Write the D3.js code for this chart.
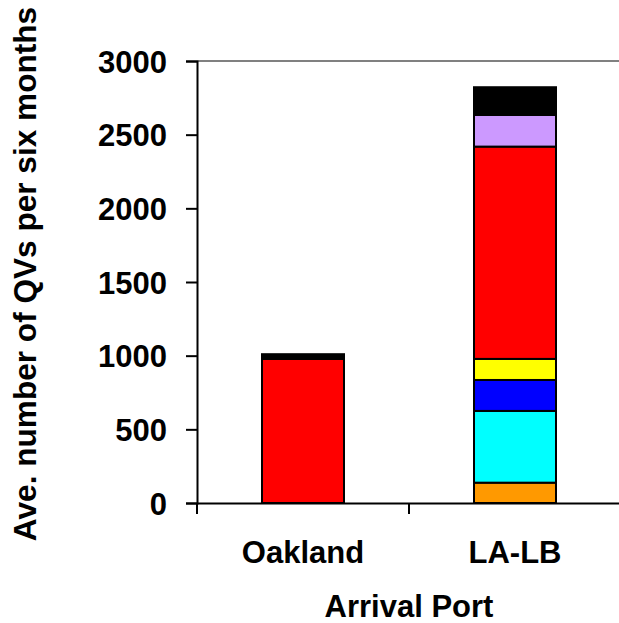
<!DOCTYPE html>
<html>
<head>
<script src="https://d3js.org/d3.v7.min.js"></script>
<style>
  body { margin: 0; background: #fff; }
  text { font-family: Arial, "Liberation Sans", sans-serif; font-weight: bold; }
</style>
</head>
<body>
<svg width="619" height="623"></svg>
<script>
// data, stacked bottom to top
var ports = ["Oakland", "LA-LB"];
var seriesKeys = ["s1", "s2", "s3", "s4", "s5", "s6", "s7"];
var seriesColors = ["#FF9900", "#00FFFF", "#0000FF", "#FFFF00", "#FF0000", "#CC99FF", "#000000"];
var oaklandValues = [0, 0, 0, 0, 978, 0, 32];
var lalbValues = [138, 487, 210, 143, 1441, 215, 188];
var yTicks = [0, 500, 1000, 1500, 2000, 2500, 3000];

var rows = [oaklandValues, lalbValues].map(function (vals, i) {
    var r = { port: ports[i] };
    seriesKeys.forEach(function (k, j) { r[k] = vals[j]; });
    return r;
});

var svg = d3.select("svg");
var plotLeft = 197, plotRight = 621, plotTop = 61, plotBottom = 503;
var fontSize = 31;

var x = d3.scaleBand().domain(ports).range([plotLeft, plotRight]).paddingInner(0).paddingOuter(0);
var y = d3.scaleLinear().domain([0, 3000]).range([plotBottom, plotTop]);
var barW = 82;

// top gridline
svg.append("line")
    .attr("x1", plotLeft).attr("x2", 619)
    .attr("y1", y(3000)).attr("y2", y(3000))
    .attr("stroke", "#808080").attr("stroke-width", 2);

var stack = d3.stack().keys(seriesKeys)(rows);

svg.append("g").selectAll("g")
    .data(stack)
    .enter().append("g")
    .attr("fill", function (d, i) { return seriesColors[i]; })
    .selectAll("rect")
    .data(function (d) { return d.filter(function (p) { return p[1] - p[0] > 0; }); })
    .enter().append("rect")
    .attr("x", function (d) { return x(d.data.port) + x.bandwidth() / 2 - barW / 2; })
    .attr("width", barW)
    .attr("y", function (d) { return y(d[1]); })
    .attr("height", function (d) { return y(d[0]) - y(d[1]); })
    .attr("stroke", "#000")
    .attr("stroke-width", 2);

// y axis
var yAxis = svg.append("g")
    .attr("transform", "translate(" + plotLeft + ",0)")
    .call(d3.axisLeft(y).tickValues(yTicks).tickFormat(d3.format("d")).tickSize(11).tickPadding(19));
yAxis.select(".domain").attr("stroke-width", 2);
yAxis.selectAll(".tick line").attr("stroke-width", 2);
yAxis.selectAll("text").attr("font-size", fontSize).attr("fill", "#000")
    .attr("font-family", "Arial, 'Liberation Sans', sans-serif").attr("dy", "0.36em");

// x axis
var xAxis = svg.append("g")
    .attr("transform", "translate(0," + plotBottom + ")")
    .call(d3.axisBottom(x).tickSize(0).tickPadding(38));
xAxis.select(".domain").attr("stroke-width", 2);
xAxis.selectAll("text").attr("font-size", fontSize).attr("fill", "#000")
    .attr("font-family", "Arial, 'Liberation Sans', sans-serif");

// category separators (ticks between bands)
svg.append("g").selectAll("line")
    .data([plotLeft, x("LA-LB"), plotRight])
    .enter().append("line")
    .attr("x1", function (d) { return d; }).attr("x2", function (d) { return d; })
    .attr("y1", plotBottom).attr("y2", plotBottom + 11)
    .attr("stroke", "#000").attr("stroke-width", 2);

svg.append("text")
    .attr("x", 409).attr("y", 617)
    .attr("text-anchor", "middle")
    .attr("font-size", fontSize)
    .text("Arrival Port");

svg.append("text")
    .attr("transform", "translate(36,274) rotate(-90)")
    .attr("text-anchor", "middle")
    .attr("font-size", 31.6)
    .text("Ave. number of QVs per six months");
</script>
</body>
</html>
